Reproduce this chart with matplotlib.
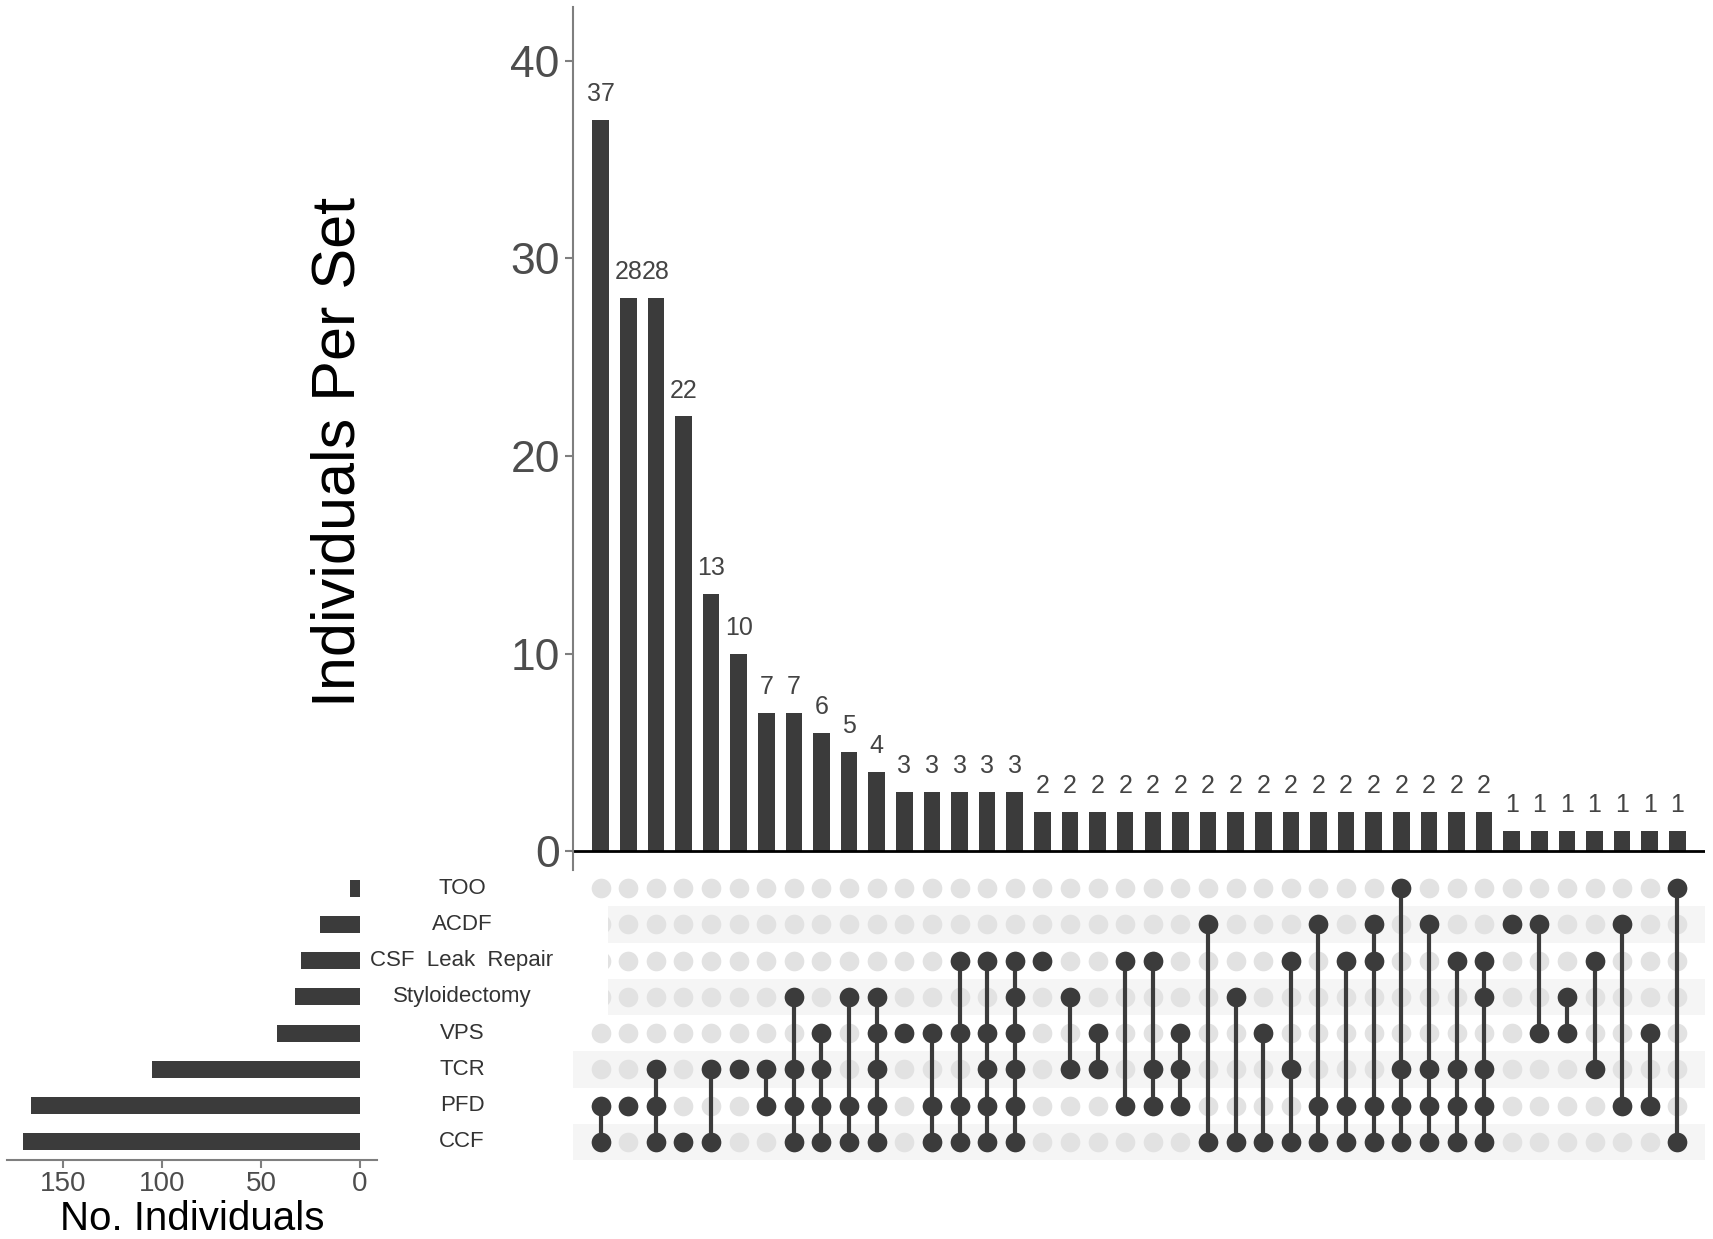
import numpy as np
import matplotlib
matplotlib.use("Agg")
import matplotlib.pyplot as plt
from matplotlib.patches import Rectangle
from matplotlib.transforms import blended_transform_factory

plt.rcParams['font.family'] = ['Liberation Sans', 'DejaVu Sans']

# sets, top to bottom as in the matrix
set_keys = ["TOO", "ACDF", "CSF", "Stylo", "VPS", "TCR", "PFD", "CCF"]
set_labels = ["TOO", "ACDF", "CSF  Leak  Repair", "Styloidectomy", "VPS", "TCR", "PFD", "CCF"]
set_sizes = [5, 20, 30, 33, 42, 105, 166, 170]

# intersection sizes (left to right)
inter_sizes = [37, 28, 28, 22, 13, 10, 7, 7, 6, 5, 4, 3, 3, 3, 3, 3,
               2, 2, 2, 2, 2, 2, 2, 2, 2, 2, 2, 2, 2, 2, 2, 2, 2,
               1, 1, 1, 1, 1, 1, 1]

# which sets make up each intersection
inter_members = [
    ["PFD", "CCF"],
    ["PFD"],
    ["TCR", "PFD", "CCF"],
    ["CCF"],
    ["TCR", "CCF"],
    ["TCR"],
    ["TCR", "PFD"],
    ["Stylo", "TCR", "PFD", "CCF"],
    ["VPS", "TCR", "PFD", "CCF"],
    ["Stylo", "PFD", "CCF"],
    ["Stylo", "VPS", "TCR", "PFD", "CCF"],
    ["VPS"],
    ["VPS", "PFD", "CCF"],
    ["CSF", "VPS", "PFD", "CCF"],
    ["CSF", "VPS", "TCR", "PFD", "CCF"],
    ["CSF", "Stylo", "VPS", "TCR", "PFD", "CCF"],
    ["CSF"],
    ["Stylo", "TCR"],
    ["VPS", "TCR"],
    ["CSF", "PFD"],
    ["CSF", "TCR", "PFD"],
    ["VPS", "TCR", "PFD"],
    ["ACDF", "CCF"],
    ["Stylo", "CCF"],
    ["VPS", "CCF"],
    ["CSF", "TCR", "CCF"],
    ["ACDF", "PFD", "CCF"],
    ["CSF", "PFD", "CCF"],
    ["ACDF", "CSF", "PFD", "CCF"],
    ["TOO", "TCR", "PFD", "CCF"],
    ["ACDF", "TCR", "PFD", "CCF"],
    ["CSF", "TCR", "PFD", "CCF"],
    ["CSF", "Stylo", "TCR", "PFD", "CCF"],
    ["ACDF"],
    ["ACDF", "VPS"],
    ["Stylo", "VPS"],
    ["CSF", "TCR"],
    ["ACDF", "PFD"],
    ["VPS", "PFD"],
    ["TOO", "CCF"],
]

dark = '#3b3b3b'
light = '#e2e2e2'
band = '#f5f5f5'
tick_col = '#4d4d4d'

W, H = 1713, 1239
fig = plt.figure(figsize=(W / 100, H / 100), dpi=100)

n_sets = len(set_keys)
n_int = len(inter_sizes)
x = np.arange(n_int)
rows = np.arange(n_sets)

# ---- top: intersection bar chart
ax_bar = fig.add_axes([573 / W, 1 - 870 / H, (1705 - 573) / W, (870 - 7) / H])
ax_bar.bar(x, inter_sizes, width=0.6, color=dark)
for xi, v in zip(x, inter_sizes):
    ax_bar.text(xi, v + 0.7, str(v), ha='center', va='bottom', fontsize=18, color='#444444')
ax_bar.axhline(0, color='black', lw=2)
ax_bar.set_xlim(-1, n_int)
ax_bar.set_ylim(-0.96, 42.73)
ax_bar.set_yticks([0, 10, 20, 30, 40])
ax_bar.set_xticks([])
ax_bar.tick_params(axis='y', labelsize=32, labelcolor=tick_col, color='#7f7f7f', length=6, width=1.5)
for s in ['top', 'right', 'bottom']:
    ax_bar.spines[s].set_visible(False)
ax_bar.spines['left'].set_color('#7f7f7f')
ax_bar.spines['left'].set_linewidth(1.5)
fig.text(339 / W, 1 - 452 / H, "Individuals Per Set", rotation=90, ha='center', va='center',
         fontsize=44, color='black')

# ---- matrix
ax_mat = fig.add_axes([573 / W, 1 - 1160 / H, (1705 - 573) / W, 290 / H])
ax_mat.set_xlim(-1, n_int)
ax_mat.set_ylim(n_sets - 0.5, -0.5)
ax_mat.axis('off')

px = (1705 - 573) / (n_int + 1)  # pixels per column
x_band_near = -1 + (608 - 573) / px
for r in [1, 3]:
    ax_mat.add_patch(Rectangle((x_band_near, r - 0.5), n_int - x_band_near, 1, color=band, lw=0, zorder=0))
for r in [5, 7]:
    ax_mat.add_patch(Rectangle((-1, r - 0.5), n_int + 1, 1, color=band, lw=0, zorder=0))

for xi in x:
    ax_mat.scatter(np.full(n_sets, xi), rows, s=200, color=light, lw=0, zorder=1)
for xi, mem in zip(x, inter_members):
    r = [set_keys.index(m) for m in mem]
    if len(r) > 1:
        ax_mat.plot([xi, xi], [min(r), max(r)], color=dark, lw=3, zorder=2, solid_capstyle='butt')
    ax_mat.scatter(np.full(len(r), xi), r, s=200, color=dark, lw=0, zorder=3)

# white label panel covering the first column in a few rows
ax_mat.add_patch(Rectangle((-1, 0.5), x_band_near + 1, 3, color='white', lw=0, zorder=4))

trans = blended_transform_factory(fig.transFigure, ax_mat.transData)
for r, lab in zip(rows, set_labels):
    fig.text(462 / W, r, lab, transform=trans, ha='center', va='center', fontsize=16, color='#333333')

# ---- left: set size bars
ax_set = fig.add_axes([7 / W, 1 - 1160 / H, (377 - 7) / W, 290 / H])
ax_set.barh(rows, set_sizes, height=0.47, color=dark)
ax_set.set_xlim(178.1, -8.6)
ax_set.set_ylim(n_sets - 0.5, -0.5)
ax_set.set_yticks([])
ax_set.set_xticks([150, 100, 50, 0])
ax_set.tick_params(axis='x', labelsize=20, labelcolor=tick_col, color='#7f7f7f', length=6, width=1.5, pad=2)
for s in ['top', 'right', 'left']:
    ax_set.spines[s].set_visible(False)
ax_set.spines['bottom'].set_color('#7f7f7f')
ax_set.spines['bottom'].set_linewidth(1.5)
ax_set.set_xlabel("No. Individuals", fontsize=29, color='black', labelpad=2)

fig.savefig('out.png', dpi=100)
